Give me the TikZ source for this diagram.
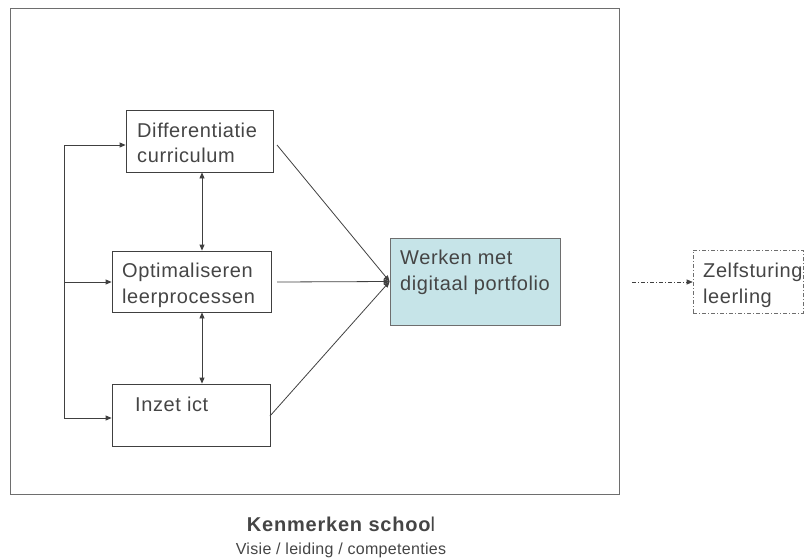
\documentclass[tikz,border=0pt]{standalone}
\usepackage{fontspec}
\setmainfont{Liberation Sans}[LetterSpace=3]
\newfontfamily\capfont{Liberation Sans}[LetterSpace=2]
\newfontfamily\titlefont{Liberation Sans}[LetterSpace=4]
\usetikzlibrary{arrows.meta}
\definecolor{txtc}{HTML}{454545}
\definecolor{linec}{HTML}{404040}
\definecolor{framec}{HTML}{6E6E6E}
\definecolor{tealfill}{HTML}{C6E4E8}
\tikzset{
  x=1pt, y=-1pt,
  box/.style={draw=linec, line width=0.8pt, inner sep=0pt},
  txt/.style={anchor=base west, inner sep=0pt, text=txtc, font=\fontsize{20}{24}\selectfont},
  conn/.style={draw=linec, line width=0.8pt},
  tip/.style={-{Triangle[length=6pt,width=5pt]}},
  dbl/.style={{Triangle[length=6pt,width=5pt]}-{Triangle[length=6pt,width=5pt]}},
  dashdot/.style={dash pattern=on 4pt off 2pt on 1pt off 2pt}
}
\begin{document}
\begin{tikzpicture}
\useasboundingbox (0,0) rectangle (804,560);
% outer frame
\draw[draw=framec, line width=0.8pt] (10,8) rectangle (619,494);
% boxes
\node[box, minimum width=147pt, minimum height=62pt] (diff) at (199.5,141) {};
\node[box, minimum width=159pt, minimum height=61pt] (opt) at (191.5,281.5) {};
\node[box, minimum width=158pt, minimum height=62pt] (ict) at (191,415) {};
\node[box, draw=framec, fill=tealfill, minimum width=170pt, minimum height=87pt] (werk) at (475,281.5) {};
\node[box, draw=framec, line width=0.6pt, dashdot, minimum width=110pt, minimum height=63pt] (zelf) at (748,281.5) {};
% texts
\node[txt] (t1) at (137,137) {Differentiatie};
\node[txt] (t2) at (137,162) {curriculum};
\node[txt] (t3) at (122,277) {Optimaliseren};
\node[txt] (t4) at (122,303) {leerprocessen};
\node[txt] (t5) at (135,411) {Inzet ict};
\node[txt] (t6) at (400,264) {Werken met};
\node[txt] (t7) at (400,290) {digitaal portfolio};
\node[txt] (t8) at (703,277) {Zelfsturing};
\node[txt] (t9) at (703,303) {leerling};
\node[anchor=base, inner sep=0pt, text=txtc, font=\titlefont\fontsize{20}{24}\selectfont] (title) at (341,531) {{\bfseries Kenmerken schoo}l};
\node[anchor=base, inner sep=0pt, text=txtc, font=\capfont\fontsize{16}{19}\selectfont] (sub) at (341,554) {Visie / leiding / competenties};
% left feedback lines
\coordinate (ltop) at (64,145);
\coordinate (lmid) at (64,282);
\coordinate (lbot) at (64,418);
\draw[conn] (ltop) -- (lbot);
\draw[conn, tip] (ltop) -- (diff.west |- ltop);
\draw[conn, tip] (lmid) -- (opt.west |- lmid);
\draw[conn, tip] (lbot) -- (ict.west |- lbot);
% vertical double arrows
\draw[conn, dbl] (diff.south -| 202,0) -- (opt.north -| 202,0);
\draw[conn, dbl] (opt.south -| 202,0) -- (ict.north -| 202,0);
% converging arrows
\coordinate (cv) at (werk.west);
\coordinate (s1) at (277,145);
\coordinate (s2) at (277,282);
\coordinate (s3) at (270,416);
\draw[conn, tip] (s1) -- (cv);
\draw[conn, tip] (s2) -- (cv);
\draw[conn, tip] (s3) -- (cv);
% dash-dot arrow
\coordinate (da) at (632,282);
\draw[draw=linec, line width=0.6pt, dashdot, -{Triangle[length=6pt,width=5pt]}] (da) -- (zelf.west |- da);
\end{tikzpicture}
\end{document}
